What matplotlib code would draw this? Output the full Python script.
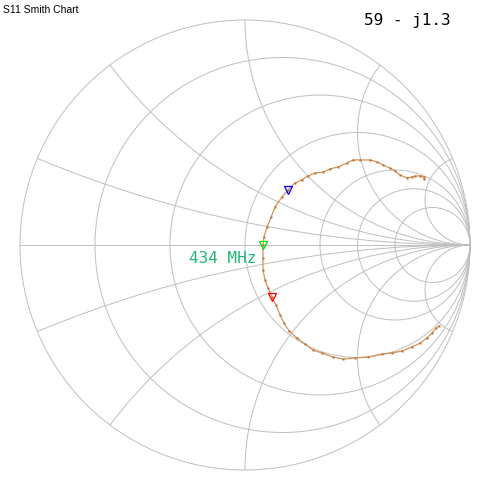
import numpy as np
import matplotlib
matplotlib.use('Agg')
import matplotlib.pyplot as plt
from matplotlib.patches import Circle

# Grid values of the Smith chart (normalised resistance / reactance)
r_values = [0.2, 0.5, 1, 2, 3, 5]
x_values = [0.2, 0.5, 1, 2, 5]

gamma_re = [0.796, 0.796, 0.778, 0.756, 0.742, 0.720, 0.689, 0.667, 0.644, 0.613,
            0.587, 0.556, 0.511, 0.480, 0.453, 0.413, 0.378, 0.347, 0.311, 0.280,
            0.253, 0.222, 0.191, 0.164, 0.133, 0.116, 0.098, 0.084, 0.080,
            0.080, 0.080, 0.089, 0.102, 0.120, 0.138, 0.156, 0.173, 0.196, 0.231,
            0.267, 0.302, 0.342, 0.391, 0.436, 0.489, 0.547, 0.609, 0.653, 0.698,
            0.742, 0.778, 0.809, 0.831, 0.849, 0.862]
gamma_im = [0.293, 0.302, 0.307, 0.307, 0.302, 0.298, 0.311, 0.329, 0.342, 0.356,
            0.369, 0.378, 0.378, 0.378, 0.364, 0.347, 0.338, 0.324, 0.320, 0.307,
            0.289, 0.276, 0.244, 0.213, 0.169, 0.124, 0.080, 0.036, 0.000,
            -0.058, -0.111, -0.156, -0.191, -0.231, -0.267, -0.311, -0.347, -0.382, -0.413,
            -0.440, -0.467, -0.480, -0.498, -0.507, -0.502, -0.498, -0.484, -0.480, -0.471,
            -0.453, -0.436, -0.413, -0.391, -0.369, -0.360]

# markers: index into the trace and colour
marker_idx = [22, 28, 33]
marker_colors = ['#0000ff', '#00e000', '#ff0000']
marker_label = '434 MHz'
readout = '59 - j1.3'
title = 'S11 Smith Chart'

grid_color = '#c0c0c0'
lw = 0.72

fig = plt.figure(figsize=(4.9, 4.9), dpi=100)
ax = fig.add_axes([0, 0, 1, 1])
lim = 245 / 225
ax.set_xlim(-lim, lim)
ax.set_ylim(-lim, lim)
ax.set_aspect('equal')
ax.axis('off')

outer = Circle((0, 0), 1, fill=False, ec=grid_color, lw=lw)
ax.add_patch(outer)
ax.plot([-1, 1], [0, 0], color=grid_color, lw=lw)

for r in r_values:
    ax.add_patch(Circle((r / (1 + r), 0), 1 / (1 + r), fill=False, ec=grid_color, lw=lw))

clip = Circle((0, 0), 1, transform=ax.transData)
for x in x_values:
    for s in (1, -1):
        c = Circle((1, s / x), 1 / x, fill=False, ec=grid_color, lw=lw)
        ax.add_patch(c)
        c.set_clip_path(clip)

# trace
ax.plot(gamma_re, gamma_im, color='#d0945a', lw=0.9, zorder=3)
ax.plot(gamma_re, gamma_im, ls='none', marker='s', ms=1.7, color='#bf6e28',
        mec='none', zorder=4)

for i, col in zip(marker_idx, marker_colors):
    ax.plot(gamma_re[i], gamma_im[i], marker='v', ms=5.5, mfc='none', mec=col,
            mew=0.9, zorder=5)

gi = marker_idx[1]
ax.annotate(marker_label, (gamma_re[gi], gamma_im[gi]), xytext=(-4.5, -4.5),
            textcoords='offset points', ha='right', va='top',
            family='DejaVu Sans Mono', fontsize=11.5, color='#20b878')

fig.text(3 / 490, 1 - 5 / 490, title, ha='left', va='top',
         family='Liberation Sans', fontsize=7.5, color='black')
fig.text(451 / 490, 1 - 13 / 490, readout, ha='right', va='top',
         family='DejaVu Sans Mono', fontsize=11.5, color='black')

fig.savefig('out.png', dpi=100, facecolor='white')
